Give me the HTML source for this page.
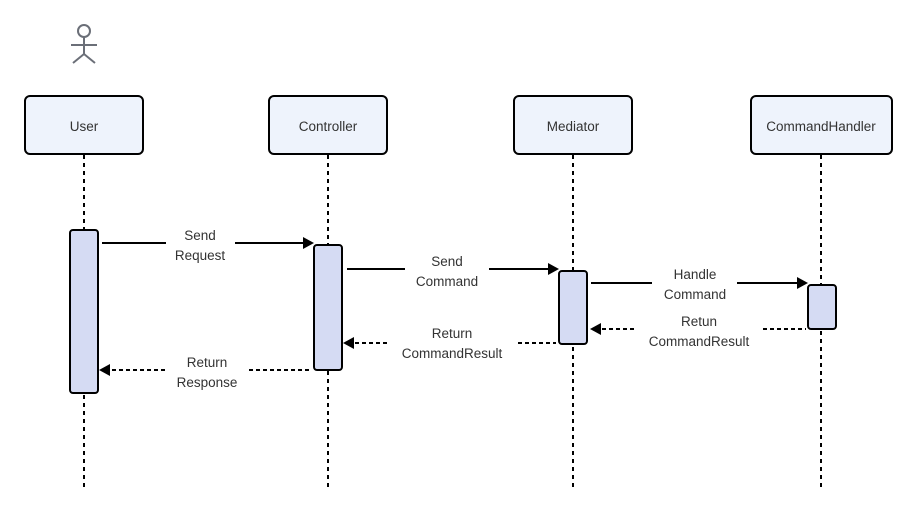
<!DOCTYPE html>
<html><head><style>html,body{margin:0;padding:0;background:#fff}svg{display:block}</style></head><body>
<svg width="917" height="511" viewBox="0 0 917 511" xmlns="http://www.w3.org/2000/svg" font-family="Liberation Sans, DejaVu Sans, sans-serif" font-size="13.5" fill="#333">
<g stroke="#6b6f78" stroke-width="2" fill="none">
<circle cx="84" cy="31" r="6"/>
<line x1="84" y1="37" x2="84" y2="54"/>
<line x1="71" y1="45" x2="97" y2="45"/>
<polyline points="73,63 84,54 95,63"/>
</g>
<g stroke="#000" stroke-width="2" stroke-dasharray="4,4">
<line x1="84" y1="155" x2="84" y2="488"/>
<line x1="328" y1="155" x2="328" y2="488"/>
<line x1="573" y1="155" x2="573" y2="488"/>
<line x1="821" y1="155" x2="821" y2="488"/>
</g>
<g fill="#eef3fc" stroke="#000" stroke-width="2">
<rect x="25" y="96" width="118" height="58" rx="5"/>
<rect x="269" y="96" width="118" height="58" rx="5"/>
<rect x="514" y="96" width="118" height="58" rx="5"/>
<rect x="751" y="96" width="141" height="58" rx="5"/>
</g>
<g text-anchor="middle" fill="#333">
<text x="84" y="131">User</text>
<text x="328" y="131">Controller</text>
<text x="573" y="131">Mediator</text>
<text x="821" y="131">CommandHandler</text>
</g>
<g fill="#d5dbf3" stroke="#000" stroke-width="2">
<rect x="70" y="230" width="28" height="163" rx="3"/>
<rect x="314" y="245" width="28" height="125" rx="3"/>
<rect x="559" y="271" width="28" height="73" rx="3"/>
<rect x="808" y="285" width="28" height="44" rx="3"/>
</g>
<g stroke="#000" stroke-width="2">
<line x1="102" y1="243" x2="166" y2="243"/><line x1="235" y1="243" x2="305" y2="243"/>
<line x1="347" y1="269" x2="405" y2="269"/><line x1="489" y1="269" x2="549" y2="269"/>
<line x1="591" y1="283" x2="652" y2="283"/><line x1="737" y1="283" x2="798" y2="283"/>
</g>
<g stroke="#000" stroke-width="2" stroke-dasharray="4,3">
<line x1="602" y1="329" x2="636" y2="329"/><line x1="763" y1="329" x2="806" y2="329"/>
<line x1="355" y1="343" x2="388" y2="343"/><line x1="518" y1="343" x2="556" y2="343"/>
<line x1="112" y1="370" x2="166" y2="370"/><line x1="249" y1="370" x2="311" y2="370"/>
</g>
<g fill="#000">
<polygon points="314,243 303,237 303,249"/>
<polygon points="559,269 548,263 548,275"/>
<polygon points="808,283 797,277 797,289"/>
<polygon points="590,329 601,323 601,335"/>
<polygon points="343,343 354,337 354,349"/>
<polygon points="99,370 110,364 110,376"/>
</g>
<g text-anchor="middle" fill="#333">
<text x="200" y="240">Send</text><text x="200" y="260">Request</text>
<text x="447" y="266">Send</text><text x="447" y="286">Command</text>
<text x="695" y="279">Handle</text><text x="695" y="299">Command</text>
<text x="699" y="326">Retun</text><text x="699" y="346">CommandResult</text>
<text x="452" y="338">Return</text><text x="452" y="358">CommandResult</text>
<text x="207" y="367">Return</text><text x="207" y="387">Response</text>
</g>
</svg>
</body></html>
